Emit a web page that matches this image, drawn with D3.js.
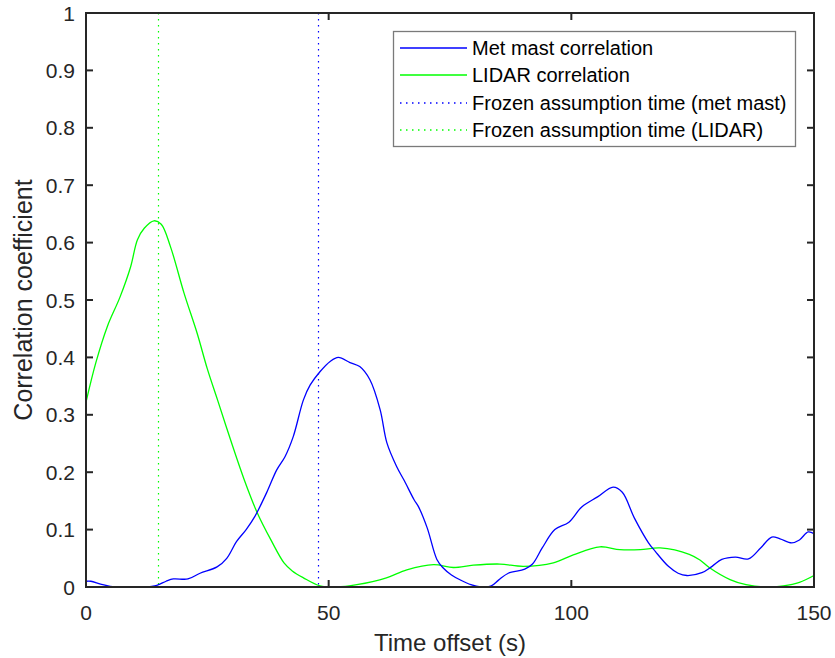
<!DOCTYPE html>
<html>
<head>
<meta charset="utf-8">
<script src="https://cdn.jsdelivr.net/npm/d3@7"></script>
<style>
  html, body { margin: 0; padding: 0; background: #fff; }
  svg { display: block; font-family: "Liberation Sans", Arial, sans-serif; }
</style>
</head>
<body>
<svg id="chart" width="835" height="658"></svg>
<script>
// Cross-correlation between upstream and downstream wind signals vs. time offset
const metTime = [0, 1, 3, 5, 9, 12, 14.6, 16.5, 18, 21, 23.5, 27, 29, 31, 33, 34.8, 37.2, 39.3, 41, 42.7,
  44.8, 46.2, 48.2, 50.3, 52, 54.4, 56.4, 58.5, 60.6, 62, 64, 65.6, 67.6, 68.5, 70.3, 72.3, 73.5, 75.3,
  77.2, 79.3, 81.3, 83.5, 85, 87, 90.4, 92, 94, 96.6, 99.5, 102.2, 105.4, 108.6, 110.5, 113, 115.9, 117.3,
  120, 122, 123.8, 126.9, 129, 131, 133.8, 136.5, 139, 141.3, 143, 145.4, 147, 148.8, 150];
const metCorr = [0.010, 0.010, 0.005, 0.001, 0.000, 0.000, 0.003, 0.010, 0.014, 0.014, 0.024, 0.035, 0.050,
  0.079, 0.100, 0.123, 0.164, 0.204, 0.227, 0.262, 0.326, 0.352, 0.375, 0.393, 0.400, 0.391, 0.384, 0.361,
  0.309, 0.251, 0.210, 0.185, 0.152, 0.140, 0.103, 0.048, 0.034, 0.021, 0.012, 0.004, 0.000, 0.002, 0.012,
  0.024, 0.031, 0.040, 0.068, 0.100, 0.113, 0.140, 0.157, 0.174, 0.165, 0.120, 0.077, 0.062, 0.036, 0.024,
  0.020, 0.025, 0.036, 0.048, 0.052, 0.049, 0.068, 0.087, 0.084, 0.077, 0.082, 0.096, 0.093];

const lidarTime = [0, 2, 4.4, 7, 9.2, 10.6, 12, 14, 15.5, 17.4, 20.2, 22.9, 25, 27.1, 29.8, 32.6, 35.3, 38.1,
  40.8, 42.5, 44.8, 48.2, 51.6, 55.8, 61.9, 66.1, 71.6, 75.7, 79.8, 85.3, 90.1, 96.3, 100.4, 105.9, 110,
  114.2, 118.3, 124.3, 126.5, 128.4, 132.7, 136, 139.6, 143.7, 147, 150];
const lidarCorr = [0.322, 0.390, 0.454, 0.505, 0.558, 0.605, 0.625, 0.638, 0.632, 0.593, 0.512, 0.442, 0.380,
  0.326, 0.256, 0.187, 0.129, 0.082, 0.042, 0.028, 0.016, 0.002, 0.000, 0.004, 0.016, 0.030, 0.039, 0.034,
  0.038, 0.040, 0.036, 0.042, 0.056, 0.070, 0.065, 0.065, 0.068, 0.057, 0.047, 0.034, 0.013, 0.004, 0.000,
  0.002, 0.008, 0.020];

// Frozen-turbulence travel times (s)
const frozenMetMast = 48;
const frozenLidar = 15;

const xTicks = [0, 50, 100, 150];
const yTicks = [0, 0.1, 0.2, 0.3, 0.4, 0.5, 0.6, 0.7, 0.8, 0.9, 1];
const legendLabels = ["Met mast correlation", "LIDAR correlation",
  "Frozen assumption time (met mast)", "Frozen assumption time (LIDAR)"];

const BLUE = "#0000ff", GREEN = "#00ff00", AXIS = "#262626";

const svg = d3.select("#chart");
const plot = { left: 86, top: 13, right: 814, bottom: 587 };

const x = d3.scaleLinear().domain([0, 150]).range([plot.left, plot.right]);
const y = d3.scaleLinear().domain([0, 1]).range([plot.bottom, plot.top]);

const line = d3.line()
  .x(d => x(d[0]))
  .y(d => y(d[1]))
  .curve(d3.curveCatmullRom.alpha(0.5));

const DOTS = "1.5,4.5";

// Vertical frozen-assumption markers
[[frozenLidar, GREEN], [frozenMetMast, BLUE]].forEach(([t, c]) => {
  const px = Math.floor(x(t)) + 0.5;
  svg.append("line")
    .attr("x1", px).attr("x2", px)
    .attr("y1", y(1)).attr("y2", y(0))
    .attr("stroke", c).attr("stroke-width", 1.2).attr("stroke-dasharray", DOTS);
});

// Correlation curves
svg.append("path")
  .datum(d3.zip(lidarTime, lidarCorr))
  .attr("d", line).attr("fill", "none")
  .attr("stroke", GREEN).attr("stroke-width", 1.3);
svg.append("path")
  .datum(d3.zip(metTime, metCorr))
  .attr("d", line).attr("fill", "none")
  .attr("stroke", BLUE).attr("stroke-width", 1.3);

// Axes box with inward ticks on all four sides
const tickLen = 7;
const axes = svg.append("g").attr("stroke", AXIS).attr("stroke-width", 2);
axes.append("rect")
  .attr("x", plot.left).attr("y", plot.top)
  .attr("width", plot.right - plot.left).attr("height", plot.bottom - plot.top)
  .attr("fill", "none");
xTicks.forEach(t => {
  axes.append("line").attr("x1", x(t)).attr("x2", x(t))
    .attr("y1", plot.bottom).attr("y2", plot.bottom - tickLen);
  axes.append("line").attr("x1", x(t)).attr("x2", x(t))
    .attr("y1", plot.top).attr("y2", plot.top + tickLen);
});
yTicks.forEach(t => {
  axes.append("line").attr("x1", plot.left).attr("x2", plot.left + tickLen)
    .attr("y1", y(t)).attr("y2", y(t));
  axes.append("line").attr("x1", plot.right).attr("x2", plot.right - tickLen)
    .attr("y1", y(t)).attr("y2", y(t));
});

// Tick labels
const fmt = d => d3.format("~g")(d);
svg.append("g").selectAll("text").data(xTicks).join("text")
  .attr("x", d => x(d)).attr("y", 620)
  .attr("text-anchor", "middle")
  .attr("font-size", 21).attr("fill", AXIS)
  .text(fmt);
svg.append("g").selectAll("text").data(yTicks).join("text")
  .attr("x", 75).attr("y", d => y(d))
  .attr("dy", "0.36em")
  .attr("text-anchor", "end")
  .attr("font-size", 21).attr("fill", AXIS)
  .text(fmt);

// Axis titles
svg.append("text")
  .attr("x", (plot.left + plot.right) / 2).attr("y", 651)
  .attr("text-anchor", "middle")
  .attr("font-size", 24).attr("fill", AXIS)
  .text("Time offset (s)");
svg.append("text")
  .attr("transform", `translate(32,${(plot.top + plot.bottom) / 2}) rotate(-90)`)
  .attr("text-anchor", "middle")
  .attr("font-size", 25).attr("fill", AXIS)
  .text("Correlation coefficient");

// Legend
const legend = svg.append("g");
legend.append("rect")
  .attr("x", 393.5).attr("y", 31.5).attr("width", 402).attr("height", 115)
  .attr("fill", "#fff").attr("stroke", "#7a7a7a").attr("stroke-width", 1.3);
const legendStyles = [
  { color: BLUE, dash: null },
  { color: GREEN, dash: null },
  { color: BLUE, dash: DOTS },
  { color: GREEN, dash: DOTS }
];
legendLabels.forEach((label, i) => {
  const cy = 47.5 + i * 27.5;
  const ly = Math.round(cy);
  legend.append("line")
    .attr("x1", 400).attr("x2", 467).attr("y1", ly).attr("y2", ly)
    .attr("stroke", legendStyles[i].color).attr("stroke-width", 1.4)
    .attr("stroke-dasharray", legendStyles[i].dash);
  legend.append("text")
    .attr("x", 472).attr("y", cy).attr("dy", "0.36em")
    .attr("font-size", 20).attr("fill", "#000")
    .text(label);
});
</script>
</body>
</html>
